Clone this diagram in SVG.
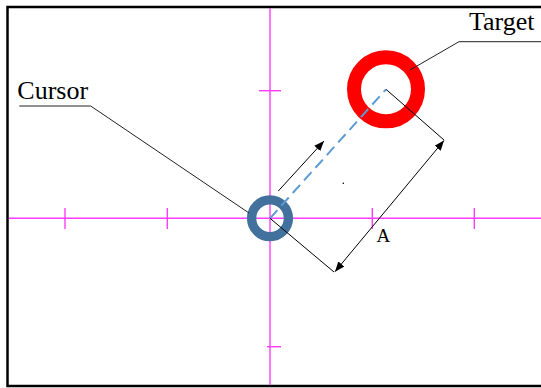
<svg xmlns="http://www.w3.org/2000/svg" width="541" height="388" viewBox="0 0 541 388">
<style>
.axis{stroke:#ff3cff;stroke-width:1.4;fill:none}
.ln{stroke:#000;stroke-width:1;fill:none}
.lead{stroke:#222;stroke-width:1;fill:none}
.lbl{font-family:"Liberation Serif","Times New Roman",serif;fill:#000}
</style>
<defs>
<marker id="ah" viewBox="0 0 10 8" refX="10" refY="4" markerWidth="10" markerHeight="8" markerUnits="userSpaceOnUse" orient="auto-start-reverse">
<path d="M0,0 L10,4 L0,8 Z" fill="#000"/>
</marker>
</defs>
<rect x="0" y="0" width="541" height="388" fill="#fff"/>
<rect x="7.5" y="7" width="540" height="379" fill="none" stroke="#000" stroke-width="2.5"/>
<g id="axes">
<line class="axis" x1="270" y1="8" x2="270" y2="385"/>
<line class="axis" x1="9" y1="218.3" x2="541" y2="218.3"/>
<line class="axis" x1="259" y1="90.7" x2="281" y2="90.7"/>
<line class="axis" x1="267" y1="346.7" x2="281" y2="346.7"/>
<line class="axis" x1="65" y1="208" x2="65" y2="229"/>
<line class="axis" x1="167.3" y1="208" x2="167.3" y2="229"/>
<line class="axis" x1="372.3" y1="208" x2="372.3" y2="229"/>
<line class="axis" x1="474.3" y1="208" x2="474.3" y2="229"/>
</g>
<g id="target">
<circle cx="386" cy="89.3" r="32" fill="none" stroke="#ff0000" stroke-width="14"/>
</g>
<g id="cursor">
<circle cx="270" cy="218.3" r="18.4" fill="none" stroke="#41719c" stroke-width="9.3"/>
</g>
<g id="connectors">
<line x1="270" y1="218.3" x2="386" y2="89.3" stroke="#5b9bd5" stroke-width="2" stroke-dasharray="11,6"/>
<line class="ln" x1="278.3" y1="191" x2="324" y2="141" marker-end="url(#ah)"/>
<line class="ln" x1="386" y1="89.3" x2="444" y2="140"/>
<line class="ln" x1="270" y1="218.3" x2="334" y2="272"/>
<line class="ln" x1="335" y1="271.7" x2="444" y2="140.5" marker-start="url(#ah)" marker-end="url(#ah)"/>
<polyline class="lead" points="19.3,106 90.7,106 249,213"/>
<polyline class="lead" points="541,41.7 459,41.7 410,70"/>
<circle cx="343.3" cy="183.3" r="0.8" fill="#000"/>
</g>
<g id="labels">
<text class="lbl" x="17.3" y="99" font-size="26">Cursor</text>
<text class="lbl" x="469" y="30" font-size="26">Target</text>
<text class="lbl" x="376.5" y="241.7" font-size="19">A</text>
</g>
</svg>
